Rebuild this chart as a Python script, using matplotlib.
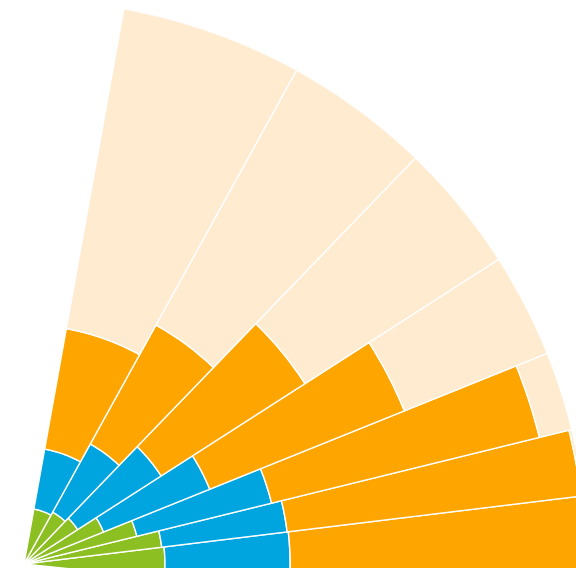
import numpy as np
import matplotlib
matplotlib.use("Agg")
import matplotlib.pyplot as plt

# Sector categories (bottom to top), angular share of each sector (degrees)
categories = ["S0", "S1", "S2", "S3", "S4", "S5", "S6"]
sector_width = [12.95, 6.85, 8.13, 10.77, 13.35, 15.05, 18.7]
start_angle = -6.0

# Stacked shares (percent) per sector, inner to outer
green = [25.0, 24.6, 20.6, 15.2, 11.3, 10.5, 9.9]
blue = [22.2, 22.4, 24.6, 20.3, 17.6, 13.8, 10.8]
orange = [52.4, 52.5, 48.9, 37.2, 30.3, 24.1, 21.7]
peach = [0.4, 0.5, 5.9, 27.3, 40.8, 51.6, 57.6]

series = [green, blue, orange, peach]
colors = ["#8CBF22", "#00A5E0", "#FFA500", "#FFEBCF"]

W, H = 576, 568
fig = plt.figure(figsize=(W / 100, H / 100), dpi=100)
cx, cy = 24, H - 564
R = 564
ax = fig.add_axes([(cx - R) / W, (cy - R) / H, 2 * R / W, 2 * R / H], projection="polar")
ax.set_ylim(0, 100)
ax.set_axis_off()

edges = start_angle + np.concatenate([[0], np.cumsum(sector_width)])
theta_c = np.deg2rad((edges[:-1] + edges[1:]) / 2)
widths = np.deg2rad(np.array(sector_width))

bottom = np.zeros(len(categories))
for vals, col in zip(series, colors):
    vals = np.array(vals)
    ax.bar(theta_c, vals, width=widths, bottom=bottom, color=col,
           edgecolor="white", linewidth=1.0, align="center")
    bottom = bottom + vals

fig.savefig("out.png", dpi=100)
